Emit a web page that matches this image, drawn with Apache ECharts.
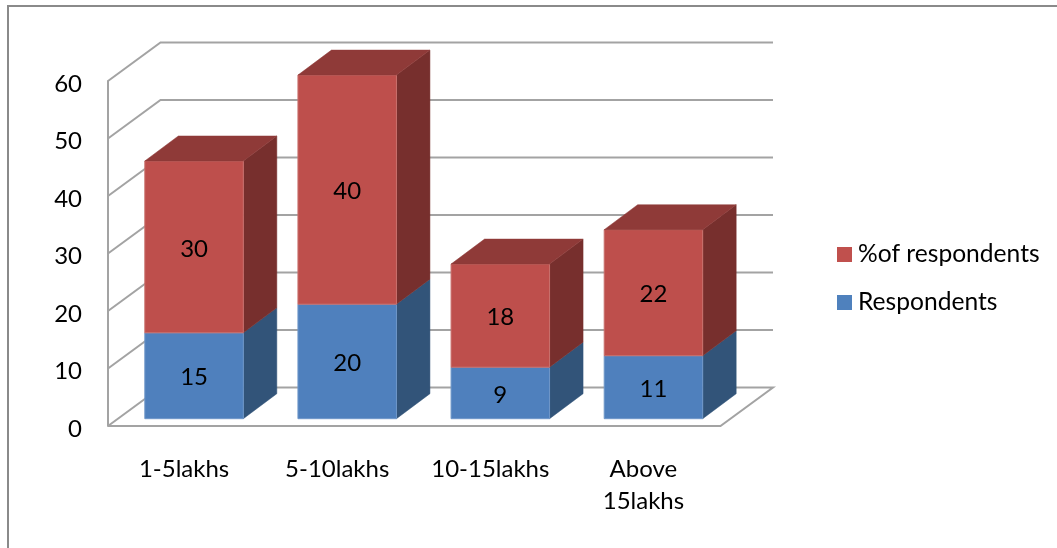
<!DOCTYPE html>
<html>
<head>
<meta charset="utf-8">
<style>html,body{margin:0;padding:0;background:#fff;overflow:hidden}#chart{width:1057px;height:548px}</style>
<script src="https://cdn.jsdelivr.net/npm/echarts@6/dist/echarts.min.js"></script>
</head>
<body>
<div id="chart"></div>
<script>
// Income bands and respondent counts
const categories = ['1-5lakhs', '5-10lakhs', '10-15lakhs', 'Above\n15lakhs'];
const respondents = [15, 20, 9, 11];
const percentOfRespondents = [30, 40, 18, 22];
const yTicks = [0, 10, 20, 30, 40, 50, 60];

// Pseudo-3D projection constants, in pixels
const WALL_DX = 52.5, WALL_DY = -38.5;
const BAR_SHIFT_X = 9.5, BAR_SHIFT_Y = -7.3;
const BAR_WIDTH = 98.5, BAR_DX = 33.5, BAR_DY = -25;
const BAR_SCALE = 0.996;

const GRID = '#a3a3a3';
const FONT = 'Lato';
const TEXT = 24;

const chart = echarts.init(document.getElementById('chart'), null, { renderer: 'canvas' });

const poly = (points, fill, stroke) => ({
  type: 'polygon',
  shape: { points },
  style: { fill, stroke: stroke || fill, lineWidth: stroke ? 1 : 0.5 }
});

// Builds one stacked prism segment running from base to base + value
function barSegment(base, palette, withTop) {
  return function (params, api) {
    const i = api.value(0);
    const value = api.value(1);
    const zero = api.coord([i, 0]);
    const project = v => zero[1] + BAR_SHIFT_Y + (api.coord([i, v])[1] - zero[1]) * BAR_SCALE;
    const x0 = zero[0] + BAR_SHIFT_X - BAR_WIDTH / 2;
    const x1 = x0 + BAR_WIDTH;
    const yb = project(base[i]);
    const yt = project(base[i] + value);
    const children = [
      poly([[x1, yb], [x1 + BAR_DX, yb + BAR_DY], [x1 + BAR_DX, yt + BAR_DY], [x1, yt]], palette.side),
      poly([[x0, yb], [x1, yb], [x1, yt], [x0, yt]], palette.front, palette.edge)
    ];
    if (withTop) {
      children.push(poly([[x0, yt], [x1, yt], [x1 + BAR_DX, yt + BAR_DY], [x0 + BAR_DX, yt + BAR_DY]], palette.top));
    }
    children.push({
      type: 'text',
      style: {
        text: String(value),
        x: (x0 + x1) / 2,
        y: (yb + yt) / 2 + 2,
        align: 'center',
        verticalAlign: 'middle',
        fill: '#000',
        font: TEXT + 'px ' + FONT
      }
    });
    return { type: 'group', children };
  };
}

// Side-wall and back-wall gridline for each tick; the floor outline at zero
function wallLine(params, api) {
  const v = api.value(0);
  const y = api.coord([0, v])[1];
  const left = params.coordSys.x;
  const width = params.coordSys.width;
  const pts = [[left, y], [left + WALL_DX, y + WALL_DY], [left + width + WALL_DX, y + WALL_DY]];
  if (v === 0) pts.push([left + width, y], [left, y]);
  return {
    type: 'polyline',
    shape: { points: pts },
    style: { fill: 'none', stroke: GRID, lineWidth: 2 }
  };
}

chart.setOption({
  animation: false,
  backgroundColor: '#fff',
  graphic: [{
    type: 'rect',
    z: -10,
    shape: { x: 8, y: 6, width: 1200, height: 700 },
    style: { fill: 'none', stroke: '#8a8a8a', lineWidth: 2 }
  }],
  legend: {
    orient: 'vertical',
    left: 832,
    top: 237,
    itemWidth: 15,
    itemHeight: 15,
    itemGap: 23,
    icon: 'rect',
    data: ['%of respondents', 'Respondents'],
    textStyle: { fontFamily: FONT, fontSize: 24.6, color: '#000', padding: [0, 0, 0, 1] }
  },
  grid: { left: 108, top: 81, width: 612.5, height: 345, containLabel: false },
  xAxis: {
    type: 'category',
    data: categories,
    axisLine: { show: false },
    axisTick: { show: false },
    axisLabel: {
      margin: 27,
      interval: 0,
      fontFamily: FONT,
      fontSize: TEXT,
      color: '#000',
      lineHeight: 32,
      padding: [0, 1, 0, 0]
    }
  },
  yAxis: {
    type: 'value',
    min: 0,
    max: 60,
    interval: 10,
    axisLine: { show: true, lineStyle: { color: GRID, width: 2 } },
    axisTick: { show: false },
    splitLine: { show: false },
    axisLabel: {
      margin: 26,
      fontFamily: FONT,
      fontSize: TEXT,
      color: '#000',
      verticalAlign: 'top',
      lineHeight: 6
    }
  },
  series: [
    {
      type: 'custom',
      name: 'walls',
      silent: true,
      z: 1,
      renderItem: wallLine,
      encode: { y: 0 },
      data: yTicks.map(v => [v]),
      clip: false
    },
    {
      type: 'custom',
      name: 'Respondents',
      z: 2,
      itemStyle: { color: '#4f81bd' },
      renderItem: barSegment(respondents.map(() => 0), { front: '#4f80bd', side: '#325479', edge: '#6f97c9' }, false),
      encode: { x: 0, y: 1 },
      data: respondents.map((v, i) => [i, v]),
      clip: false
    },
    {
      type: 'custom',
      name: '%of respondents',
      z: 3,
      itemStyle: { color: '#c0504d' },
      renderItem: barSegment(respondents, { front: '#be4f4c', side: '#772f2d', top: '#8f3a38', edge: '#c9706d' }, true),
      encode: { x: 0, y: 1 },
      data: percentOfRespondents.map((v, i) => [i, v]),
      clip: false
    }
  ]
});
</script>
</body>
</html>
